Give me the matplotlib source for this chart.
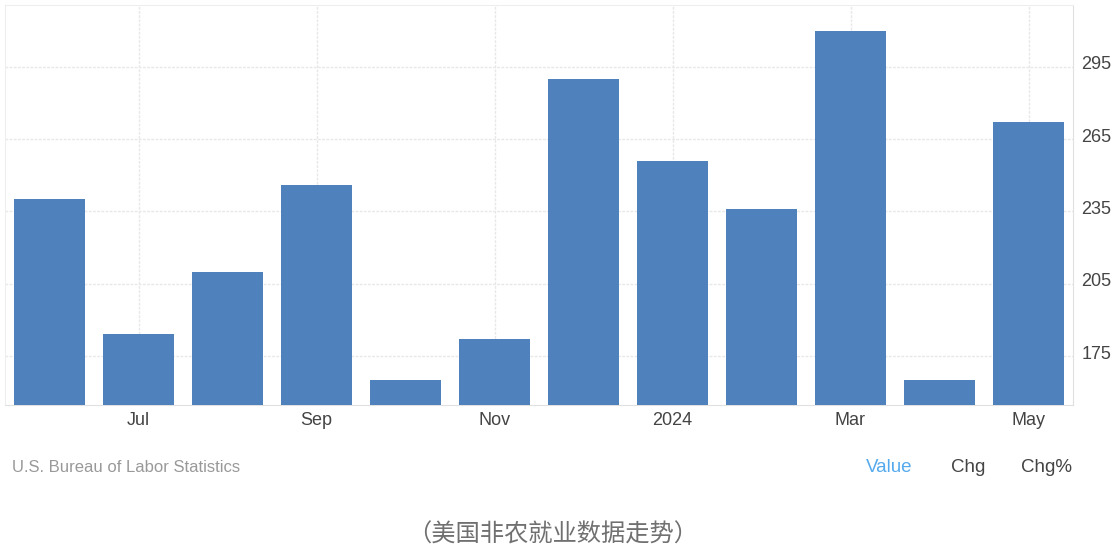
import matplotlib
matplotlib.use("Agg")
import matplotlib.pyplot as plt
from matplotlib.transforms import ScaledTranslation

months = ["Jun", "Jul", "Aug", "Sep", "Oct", "Nov", "Dec", "Jan", "Feb", "Mar", "Apr", "May"]
values = [240, 184, 210, 246, 165, 182, 290, 256, 236, 310, 165, 272]
xtick_idx = [1, 3, 5, 7, 9, 11]
xtick_labels = ["Jul", "Sep", "Nov", "2024", "Mar", "May"]
yticks = [175, 205, 235, 265, 295]

plt.rcParams['font.family'] = ['Liberation Sans', 'DejaVu Sans']

W, H = 1116, 553
fig = plt.figure(figsize=(W / 100, H / 100), dpi=100)
ax = fig.add_axes([5 / W, (H - 405) / H, (1073 - 5) / W, 400 / H])

x = list(range(len(months)))
ax.bar(x, values, width=0.79, color="#4f81bd", zorder=3)
ax.set_xlim(-0.5, 11.5)
ax.set_ylim(154.7, 320.6)

ax.set_xticks(xtick_idx)
ax.set_xticklabels(xtick_labels, fontsize=13, color="#444444")
ax.set_yticks(yticks)
ax.set_yticklabels([str(v) for v in yticks], fontsize=13, color="#444444")
ax.yaxis.tick_right()
ax.tick_params(axis="both", length=0)
ax.tick_params(axis="x", pad=5)
ax.tick_params(axis="y", pad=6)
offset = ScaledTranslation(0, 4 / 100, fig.dpi_scale_trans)
for lbl in ax.get_yticklabels():
    lbl.set_transform(lbl.get_transform() + offset)

ax.grid(True, color="#e8e8e8", linestyle=(0, (2, 1)), linewidth=1, zorder=0)
for s in ["left", "top"]:
    ax.spines[s].set_color("#eeeeee")
for s in ["right", "bottom"]:
    ax.spines[s].set_color("#e0e0e0")

fig.text(12 / W, 1 - 467 / H, "U.S. Bureau of Labor Statistics", fontsize=12, color="#999999", va="center", ha="left")
fig.text(889 / W, 1 - 467 / H, "Value", fontsize=13.5, color="#55aaee", va="center", ha="center")
fig.text(968 / W, 1 - 467 / H, "Chg", fontsize=13.5, color="#444444", va="center", ha="center")
fig.text(1046 / W, 1 - 467 / H, "Chg%", fontsize=13.5, color="#444444", va="center", ha="center")
fig.text(553 / W, 1 - 535 / H, "（美国非农就业数据走势）", fontsize=17.5, color="#707070", va="center", ha="center",
         family=["Noto Sans CJK SC", "DejaVu Sans"])

fig.savefig("out.png", dpi=100, facecolor="white")
